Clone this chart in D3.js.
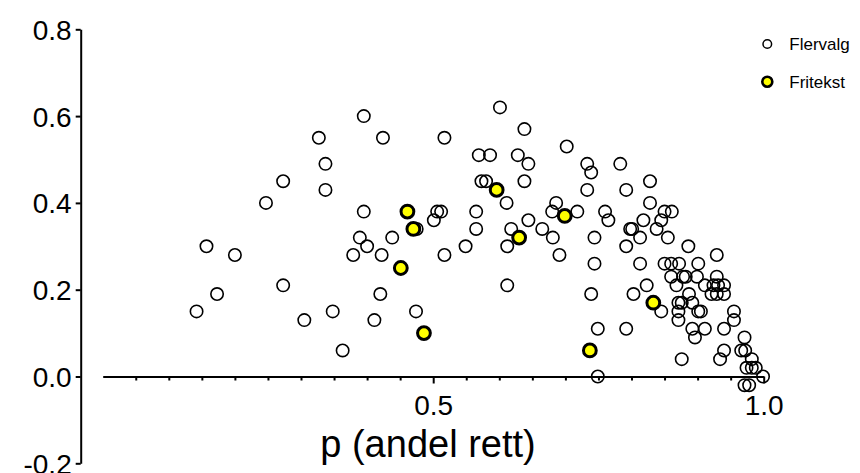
<!DOCTYPE html>
<html>
<head>
<meta charset="utf-8">
<script src="https://cdn.jsdelivr.net/npm/d3@7"></script>
<style>
  body { margin: 0; background: #fff; }
  svg text { font-family: "Liberation Sans", Arial, Helvetica, sans-serif; fill: #000; }
</style>
</head>
<body>
<div id="chart"></div>
<script>
// p = andel rett, d = verdi på y-aksen
const flervalgP = [0.142, 0.157, 0.173, 0.200,
  0.247, 0.273, 0.273, 0.305, 0.327, 0.337, 0.337, 0.348, 0.363, 0.379, 0.389, 0.395, 0.395, 0.400,
  0.411, 0.420, 0.422, 0.424, 0.438, 0.474, 0.475, 0.501, 0.506, 0.512, 0.517, 0.517, 0.549,
  0.565, 0.565, 0.569, 0.573, 0.580, 0.586, 0.601,
  0.611, 0.612, 0.612, 0.618, 0.628, 0.638, 0.638, 0.644, 0.644, 0.665, 0.680, 0.681, 0.686,
  0.691, 0.702, 0.718, 0.733, 0.733, 0.739, 0.739, 0.744, 0.744, 0.749, 0.749, 0.760, 0.765,
  0.783, 0.792, 0.792, 0.792, 0.798, 0.801, 0.803, 0.813, 0.813, 0.818, 0.823, 0.828, 0.828,
  0.838, 0.845, 0.845, 0.850, 0.850, 0.855, 0.860, 0.860, 0.861, 0.868, 0.871, 0.871, 0.871,
  0.872, 0.876, 0.876, 0.878, 0.882, 0.886, 0.887, 0.892, 0.892, 0.896, 0.899, 0.901, 0.901,
  0.905, 0.911, 0.911, 0.921, 0.924, 0.929, 0.929, 0.929, 0.931, 0.934, 0.940, 0.940, 0.940,
  0.940, 0.955, 0.955, 0.966, 0.971, 0.971, 0.972, 0.974, 0.978, 0.982, 0.982, 0.988, 0.999];
const flervalgD = [0.15, 0.30, 0.19, 0.28,
  0.40, 0.45, 0.21, 0.13, 0.55, 0.49, 0.43, 0.15, 0.06, 0.28, 0.32, 0.60, 0.38, 0.30,
  0.13, 0.19, 0.28, 0.55, 0.32, 0.15, 0.34, 0.36, 0.38, 0.38, 0.55, 0.28, 0.30,
  0.38, 0.34, 0.51, 0.45, 0.45, 0.51, 0.62,
  0.40, 0.30, 0.21, 0.34, 0.51, 0.57, 0.45, 0.49, 0.36, 0.34, 0.38, 0.32, 0.40,
  0.28, 0.53, 0.38, 0.49, 0.43, 0.47, 0.19, 0.32, 0.26, 0.11, 0.00, 0.38, 0.36,
  0.49, 0.43, 0.30, 0.11, 0.34, 0.34, 0.19, 0.32, 0.26, 0.36, 0.21, 0.45, 0.40,
  0.34, 0.36, 0.15, 0.38, 0.26, 0.32, 0.26, 0.23, 0.38, 0.21, 0.17, 0.15, 0.13,
  0.26, 0.17, 0.04, 0.23, 0.23, 0.30, 0.19, 0.17, 0.11, 0.09, 0.23, 0.26, 0.15,
  0.15, 0.21, 0.11, 0.19, 0.21, 0.28, 0.23, 0.19, 0.21, 0.04, 0.21, 0.19, 0.11,
  0.06, 0.15, 0.13, 0.06, 0.09, -0.02, 0.06, 0.02, -0.02, 0.04, 0.02, 0.02, 0.00];
const fritekstP = [0.451, 0.461, 0.470, 0.486, 0.596, 0.630, 0.699, 0.737, 0.833];
const fritekstD = [0.25, 0.38, 0.34, 0.10, 0.43, 0.32, 0.37, 0.06, 0.17];

const yTicks = [-0.2, 0.0, 0.2, 0.4, 0.6, 0.8];
const xTicks = d3.range(1, 21).map(i => i / 20);
const xLabels = [0.5, 1.0];
const xTitle = "p (andel rett)";
const legendNames = ["Flervalg", "Fritekst"];

const width = 860, height = 473;
const svg = d3.select("#chart").append("svg")
  .attr("width", width).attr("height", height);

const x = d3.scaleLinear().domain([0, 1]).range([102.7, 763.7]);
const y = d3.scaleLinear().domain([-0.2, 0.8]).range([463.3, 29.3]);

const fmt = d => d.toFixed(1);
const isLabel = d => xLabels.some(v => Math.abs(v - d) < 1e-9);

// y-akse
const yAxis = svg.append("g")
  .attr("transform", "translate(80.7,0)")
  .call(d3.axisLeft(y).tickValues(yTicks).tickFormat(fmt).tickSize(5).tickSizeOuter(0));
yAxis.select(".domain").attr("stroke-width", 2);
yAxis.selectAll(".tick line").attr("stroke-width", 2);
yAxis.selectAll(".tick text").attr("font-size", 28).attr("x", -9).attr("dy", "0.36em");

// x-akse
const xAxis = svg.append("g")
  .attr("transform", `translate(0,${y(0)})`)
  .call(d3.axisBottom(x).tickValues(xTicks)
    .tickFormat(d => isLabel(d) ? fmt(d) : "")
    .tickSize(4).tickSizeOuter(0));
xAxis.select(".domain").attr("stroke-width", 2);
xAxis.selectAll(".tick line").attr("stroke-width", 2)
  .filter(isLabel).attr("y2", 7);
xAxis.selectAll(".tick text").attr("font-size", 28).attr("y", 19);

svg.append("text")
  .attr("x", 428).attr("y", 457)
  .attr("text-anchor", "middle")
  .attr("font-size", 38)
  .text(xTitle);

// punkter
const flervalg = flervalgP.map((p, i) => ({ p: p, d: flervalgD[i] }));
const fritekst = fritekstP.map((p, i) => ({ p: p, d: fritekstD[i] }));

svg.append("g").selectAll("circle")
  .data(flervalg)
  .enter().append("circle")
  .attr("cx", d => x(d.p))
  .attr("cy", d => y(d.d))
  .attr("r", 6.2)
  .attr("fill", "none")
  .attr("stroke", "#000")
  .attr("stroke-width", 1.6);

svg.append("g").selectAll("circle")
  .data(fritekst)
  .enter().append("circle")
  .attr("cx", d => x(d.p))
  .attr("cy", d => y(d.d))
  .attr("r", 6.4)
  .attr("fill", "#ffff00")
  .attr("stroke", "#000")
  .attr("stroke-width", 3);

// legende
const legend = svg.append("g").selectAll("g")
  .data(legendNames)
  .enter().append("g")
  .attr("transform", (d, i) => `translate(767.3,${44 + i * 37.7})`);
legend.append("circle")
  .attr("r", (d, i) => i === 0 ? 4.3 : 5)
  .attr("fill", (d, i) => i === 0 ? "none" : "#ffff00")
  .attr("stroke", "#000")
  .attr("stroke-width", (d, i) => i === 0 ? 1.5 : 2.6);
legend.append("text")
  .attr("x", 22).attr("dy", "0.36em")
  .attr("font-size", 17)
  .text(d => d);
</script>
</body>
</html>
